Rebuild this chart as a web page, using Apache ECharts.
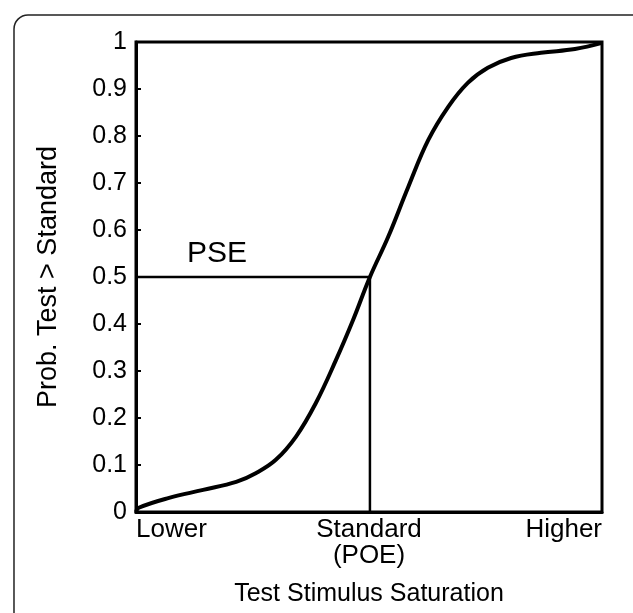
<!DOCTYPE html>
<html>
<head>
<meta charset="UTF-8">
<script src="https://cdn.jsdelivr.net/npm/echarts@6/dist/echarts.min.js"></script>
<style>
html, body { margin: 0; padding: 0; background: #fff; }
#main { width: 633px; height: 613px; }
</style>
</head>
<body>
<div id="main"></div>
<script>
// psychometric curve: [stimulus (0..1), probability]
var curveX = [0, 0.006, 0.071, 0.144, 0.215, 0.258, 0.300, 0.343, 0.386, 0.429, 0.466, 0.502,
              0.541, 0.584, 0.627, 0.670, 0.712, 0.755, 0.805, 0.869, 0.942, 1.0];
var curveY = [0, 0.009, 0.030, 0.047, 0.064, 0.083, 0.111, 0.160, 0.232, 0.323, 0.409, 0.5,
              0.585, 0.691, 0.791, 0.862, 0.913, 0.945, 0.966, 0.977, 0.985, 0.998];
// PSE guide: from the y axis to the curve at 0.5, then down to the x axis
var pseX = [0, 0.502, 0.502];
var pseY = [0.5, 0.5, 0];
var xTickValues = [0, 0.5, 1];
var xTickLabels = ['Lower', 'Standard\n(POE)', 'Higher'];

function pairs(xs, ys) {
    var out = [];
    for (var i = 0; i < xs.length; i++) out.push([xs[i], ys[i]]);
    return out;
}

var font = '"Liberation Sans", Arial, Helvetica, sans-serif';
var chart = echarts.init(document.getElementById('main'));
chart.setOption({
    animation: false,
    backgroundColor: '#fff',
    grid: {
        left: 136, right: 31, top: 42, bottom: 101,
        show: true, borderColor: '#000', borderWidth: 3
    },
    xAxis: {
        type: 'value', min: 0, max: 1, interval: 0.5,
        name: 'Test Stimulus Saturation',
        nameLocation: 'middle', nameGap: 70,
        nameTextStyle: { color: '#000', fontSize: 25, fontFamily: font },
        axisLine: { show: true, lineStyle: { color: '#000', width: 3 } },
        axisTick: { show: false },
        splitLine: { show: false },
        axisLabel: {
            color: '#000', fontSize: 26, fontFamily: font, lineHeight: 26, margin: 5,
            alignMinLabel: 'left', alignMaxLabel: 'right',
            formatter: function (v) {
                var i = xTickValues.indexOf(Math.round(v * 10) / 10);
                return i >= 0 ? xTickLabels[i] : '';
            }
        }
    },
    yAxis: {
        type: 'value', min: 0, max: 1, interval: 0.1,
        name: 'Prob. Test > Standard',
        nameLocation: 'middle', nameGap: 74,
        nameTextStyle: { color: '#000', fontSize: 27, fontFamily: font },
        axisLine: { show: true, lineStyle: { color: '#000', width: 3 } },
        axisTick: { show: true, inside: true, length: 5, lineStyle: { color: '#000', width: 2 } },
        splitLine: { show: false },
        axisLabel: { color: '#000', fontSize: 25, fontFamily: font, margin: 9 }
    },
    graphic: [
        {
            type: 'rect', silent: true,
            shape: { x: 14, y: 15, width: 640, height: 700, r: 14 },
            style: { fill: 'none', stroke: '#222', lineWidth: 1.5 }
        },
        {
            type: 'text', left: 187, top: 239,
            style: { text: 'PSE', fill: '#000', fontSize: 30, fontFamily: font }
        }
    ],
    series: [
        {
            type: 'line', data: pairs(pseX, pseY), symbol: 'none',
            lineStyle: { color: '#000', width: 2.5 }
        },
        {
            type: 'line', data: pairs(curveX, curveY), symbol: 'none', smooth: 0.4,
            lineStyle: { color: '#000', width: 4 }
        }
    ]
});
</script>
</body>
</html>
